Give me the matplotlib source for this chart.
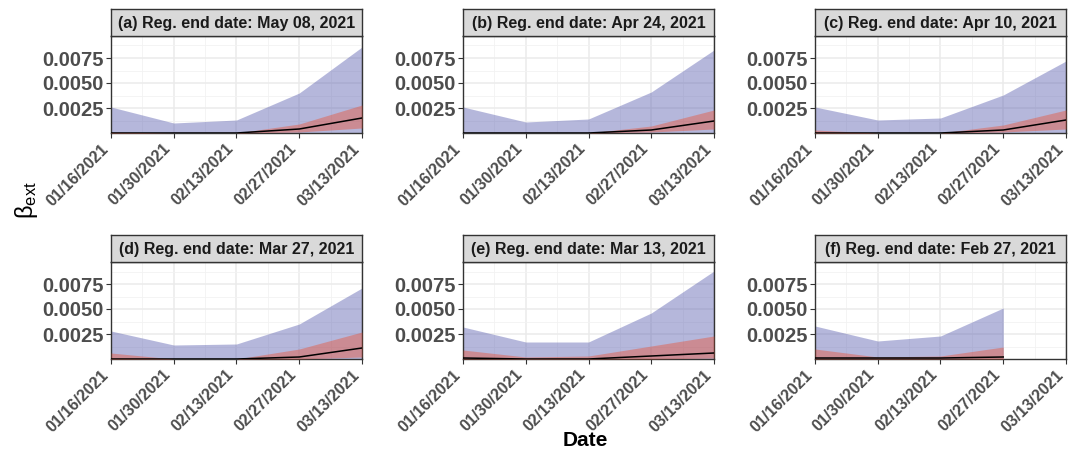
import matplotlib as mpl
mpl.use('Agg')
import matplotlib.pyplot as plt
import matplotlib.dates as mdates
import numpy as np
from datetime import datetime

plt.rcParams['font.family'] = ['Liberation Sans', 'DejaVu Sans']

dates = ['01/16/2021', '01/30/2021', '02/13/2021', '02/27/2021', '03/13/2021']
titles = ['(a) Reg. end date: May 08, 2021',
          '(b) Reg. end date: Apr 24, 2021',
          '(c) Reg. end date: Apr 10, 2021',
          '(d) Reg. end date: Mar 27, 2021',
          '(e) Reg. end date: Mar 13, 2021',
          '(f) Reg. end date: Feb 27, 2021']

# outer band (blue), inner band (red), median (black) for each regression end date
blue_hi = [[0.0026, 0.0010, 0.0013, 0.0040, 0.0086],
           [0.0026, 0.0011, 0.0014, 0.0041, 0.0083],
           [0.0026, 0.0013, 0.0015, 0.0038, 0.0072],
           [0.0028, 0.0014, 0.0015, 0.0035, 0.0071],
           [0.0032, 0.0017, 0.0017, 0.0046, 0.0088],
           [0.0033, 0.0018, 0.0023, 0.0051]]
blue_lo = [[0.0000, 0.0000, 0.0000, 0.0000, 0.0000],
           [0.0000, 0.0000, 0.0000, 0.0000, 0.0000],
           [0.0000, 0.0000, 0.0000, 0.0000, 0.0000],
           [0.0000, 0.0000, 0.0000, 0.0000, 0.0000],
           [0.0000, 0.0000, 0.0000, 0.0000, 0.0000],
           [0.0000, 0.0000, 0.0000, 0.0000]]
red_hi = [[0.0001, 0.0000, 0.0000, 0.0009, 0.0028],
          [0.0000, 0.0000, 0.0000, 0.0007, 0.0023],
          [0.0003, 0.0000, 0.0000, 0.0008, 0.0023],
          [0.0006, 0.0000, 0.0000, 0.0010, 0.0027],
          [0.0009, 0.0002, 0.0003, 0.0013, 0.0023],
          [0.0010, 0.0002, 0.0003, 0.0012]]
red_lo = [[0.0000, 0.0000, 0.0000, 0.0001, 0.0005],
          [0.0000, 0.0000, 0.0000, 0.0001, 0.0004],
          [0.0000, 0.0000, 0.0000, 0.0001, 0.0004],
          [0.0000, 0.0000, 0.0000, 0.0000, 0.0002],
          [0.0000, 0.0000, 0.0000, 0.0000, 0.0001],
          [0.0000, 0.0000, 0.0000, 0.0000]]
median = [[0.0000, 0.0000, 0.0000, 0.0004, 0.0015],
          [0.0000, 0.0000, 0.0000, 0.0003, 0.0012],
          [0.0000, 0.0000, 0.0000, 0.0003, 0.0013],
          [0.0000, 0.0000, 0.0000, 0.0002, 0.0011],
          [0.0001, 0.0000, 0.0000, 0.0003, 0.0006],
          [0.0001, 0.0001, 0.0001, 0.0002]]

yticks = [0.0025, 0.0050, 0.0075]
ytick_labels = ['0.0025', '0.0050', '0.0075']

x_all = [datetime.strptime(d, '%m/%d/%Y') for d in dates]
xnum = mdates.date2num(x_all)

W, H = 1079, 454
fig = plt.figure(figsize=(W / 100, H / 100), dpi=100)

col_left = [111, 463, 815]
row_top = [36, 262]
pw, ph, sh = 251, 97, 27

for k in range(6):
    r, c = divmod(k, 3)
    l = col_left[c]
    t = row_top[r]
    ax = fig.add_axes([l / W, 1 - (t + ph) / H, pw / W, ph / H])
    n = len(blue_hi[k])
    x = xnum[:n]

    ax.fill_between(x, blue_lo[k], blue_hi[k], color=(72/255, 77/255, 167/255), alpha=0.4, lw=0, zorder=2)
    ax.fill_between(x, red_lo[k], red_hi[k], color=(237/255, 74/255, 40/255), alpha=0.4, lw=0, zorder=3)
    ax.plot(x, median[k], color='black', lw=1.1, zorder=4)

    ax.set_xlim(xnum[0], xnum[-1])
    ax.set_ylim(0, 0.0097)
    ax.set_xticks(xnum)
    ax.set_xticks([(xnum[i] + xnum[i + 1]) / 2 for i in range(len(xnum) - 1)], minor=True)
    ax.set_yticks(yticks)
    ax.set_yticks([0.00125, 0.00375, 0.00625, 0.00875], minor=True)
    ax.set_xticklabels(dates, rotation=45, ha='right', va='bottom', rotation_mode='anchor',
                       fontsize=11.5, fontweight='bold', color='#4d4d4d')
    ax.set_yticklabels(ytick_labels, fontsize=14.5, fontweight='bold', color='#4d4d4d')
    ax.grid(which='major', color='#ebebeb', lw=1.1, zorder=0)
    ax.grid(which='minor', color='#f2f2f2', lw=0.6, zorder=0)
    ax.set_axisbelow(True)
    ax.tick_params(which='major', length=3.5, width=0.8, color='#333333', pad=2)
    ax.tick_params(axis='x', which='major', pad=10)
    ax.tick_params(which='minor', length=0)
    for s in ax.spines.values():
        s.set_color('#333333')
        s.set_linewidth(1.0)

    # facet strip
    sax = fig.add_axes([l / W, 1 - t / H, pw / W, sh / H])
    sax.set_facecolor('#d9d9d9')
    sax.set_xticks([])
    sax.set_yticks([])
    for s in sax.spines.values():
        s.set_color('#333333')
        s.set_linewidth(1.0)
    sax.text(0.5, 0.47, titles[k], ha='center', va='center', fontsize=11.5,
             fontweight='bold', color='#1a1a1a', transform=sax.transAxes)

fig.text(585 / W, 1 - 440 / H, 'Date', ha='center', va='center', fontsize=15, fontweight='bold')
fig.text(27 / W, 1 - 200 / H, r'$\mathregular{β_{ext}}$', ha='center', va='center',
         rotation=90, fontsize=17)

plt.savefig('out.png', dpi=100)
plt.close()
